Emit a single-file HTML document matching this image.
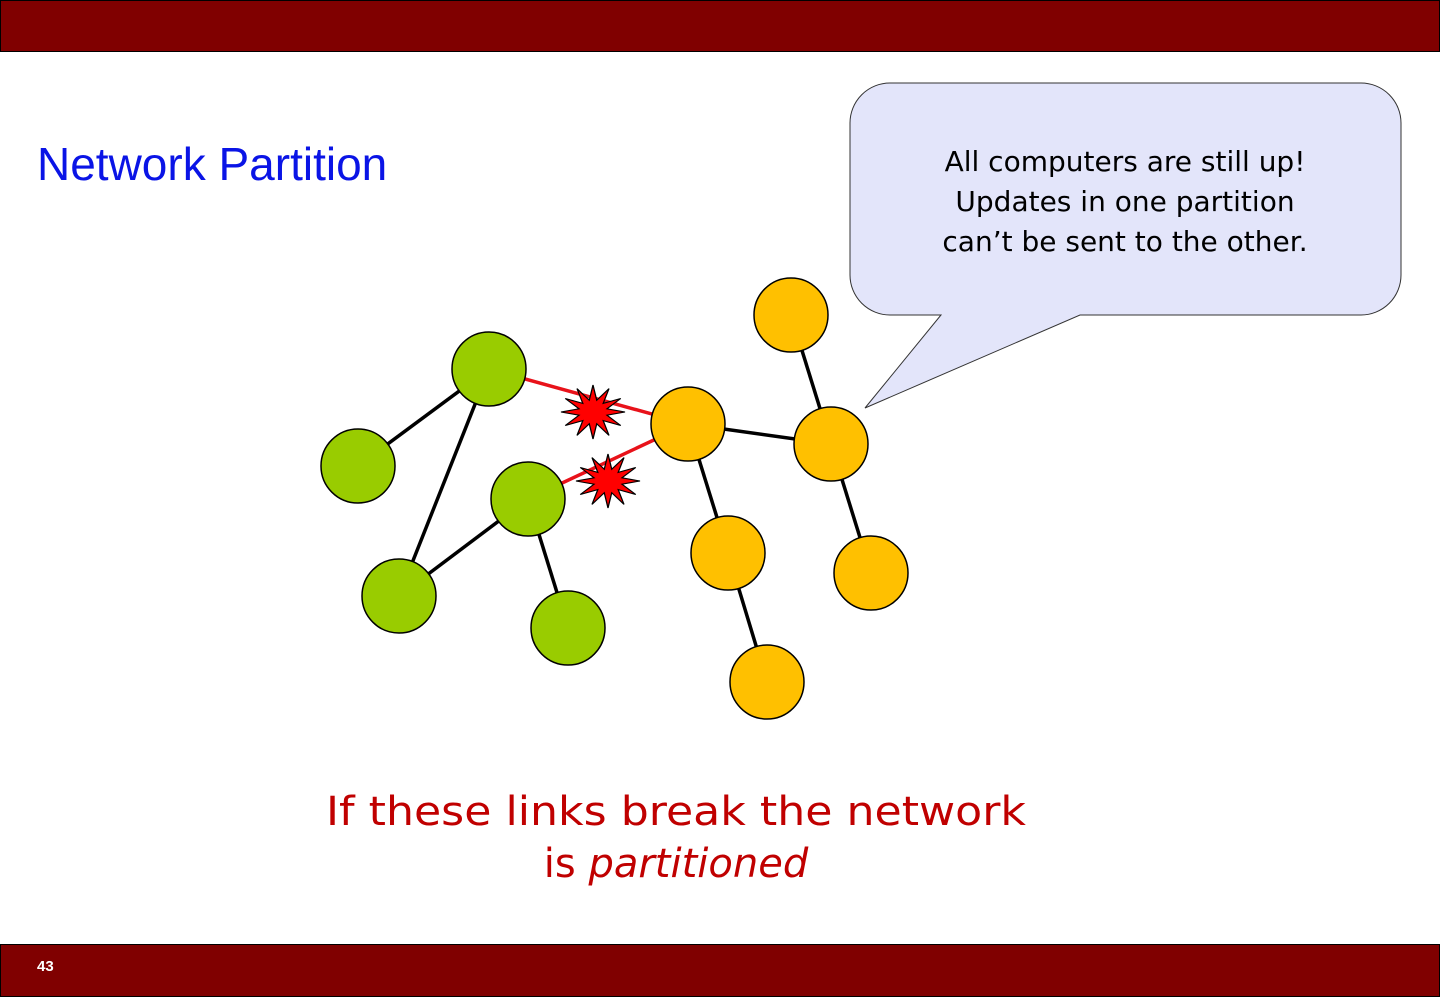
<!DOCTYPE html>
<html><head><meta charset="utf-8"><style>
html,body{margin:0;padding:0;background:#fff;}
svg{display:block;}
</style></head><body>
<svg width="1440" height="997" viewBox="0 0 1440 997" xmlns="http://www.w3.org/2000/svg">
<defs>
<polygon id="star" points="1,0 .435,.117 .866,.5 .318,.318 .5,.866 .117,.435 0,1 -.117,.435 -.5,.866 -.318,.318 -.866,.5 -.435,.117 -1,0 -.435,-.117 -.866,-.5 -.318,-.318 -.5,-.866 -.117,-.435 0,-1 .117,-.435 .5,-.866 .318,-.318 .866,-.5 .435,-.117"/>
</defs>
<rect x="0.5" y="0.5" width="1439" height="51" fill="#800000" stroke="#000"/>
<rect x="0.5" y="944.5" width="1439" height="52" fill="#800000" stroke="#000"/>
<text x="37" y="971" font-family="Liberation Sans, sans-serif" font-weight="bold" font-size="15" fill="#fff">43</text>
<text x="37" y="180" font-family="Liberation Sans, sans-serif" font-size="46" fill="#0a14e6">Network Partition</text>

<!-- callout -->
<path d="M890,83 H1361 A40,40 0 0 1 1401,123 V275 A40,40 0 0 1 1361,315 H1080 L865,408 L941,315 H890 A40,40 0 0 1 850,275 V123 A40,40 0 0 1 890,83 Z" fill="#e3e5fa" stroke="#333" stroke-width="1"/>
<g font-family="DejaVu Sans, sans-serif" font-size="28" fill="#000" text-anchor="middle">
<text x="1125" y="171">All computers are still up!</text>
<text x="1125" y="211">Updates in one partition</text>
<text x="1125" y="251">can’t be sent to the other.</text>
</g>

<!-- edges -->
<g stroke="#000" stroke-width="3.5">
<line x1="489" y1="369" x2="358" y2="466"/>
<line x1="489" y1="369" x2="399" y2="596"/>
<line x1="528" y1="499" x2="399" y2="596"/>
<line x1="528" y1="499" x2="568" y2="628"/>
<line x1="688" y1="424" x2="831" y2="444"/>
<line x1="791" y1="315" x2="831" y2="444"/>
<line x1="688" y1="424" x2="728" y2="553"/>
<line x1="831" y1="444" x2="871" y2="573"/>
<line x1="728" y1="553" x2="767" y2="682"/>
</g>
<g stroke="#e8121a" stroke-width="3.5">
<line x1="489" y1="369" x2="688" y2="424"/>
<line x1="528" y1="499" x2="688" y2="424"/>
</g>
<!-- nodes -->
<g stroke="#000" stroke-width="1.5">
<g fill="#99cc00">
<circle cx="489" cy="369" r="37"/>
<circle cx="358" cy="466" r="37"/>
<circle cx="528" cy="499" r="37"/>
<circle cx="399" cy="596" r="37"/>
<circle cx="568" cy="628" r="37"/>
</g>
<g fill="#ffc000">
<circle cx="791" cy="315" r="37"/>
<circle cx="688" cy="424" r="37"/>
<circle cx="831" cy="444" r="37"/>
<circle cx="728" cy="553" r="37"/>
<circle cx="871" cy="573" r="37"/>
<circle cx="767" cy="682" r="37"/>
</g>
</g>
<!-- stars -->
<use href="#star" transform="translate(593,412) scale(32,27)" fill="#ff0000" stroke="#000" stroke-width="0.04"/>
<use href="#star" transform="translate(608,481) scale(32,27)" fill="#ff0000" stroke="#000" stroke-width="0.04"/>

<!-- bottom text -->
<g font-family="DejaVu Sans, sans-serif" font-size="40" fill="#c00000" text-anchor="middle">
<text x="676" y="825" textLength="700" lengthAdjust="spacingAndGlyphs">If these links break the network</text>
<text x="676" y="877">is <tspan font-style="italic">partitioned</tspan></text>
</g>
</svg>
</body></html>
